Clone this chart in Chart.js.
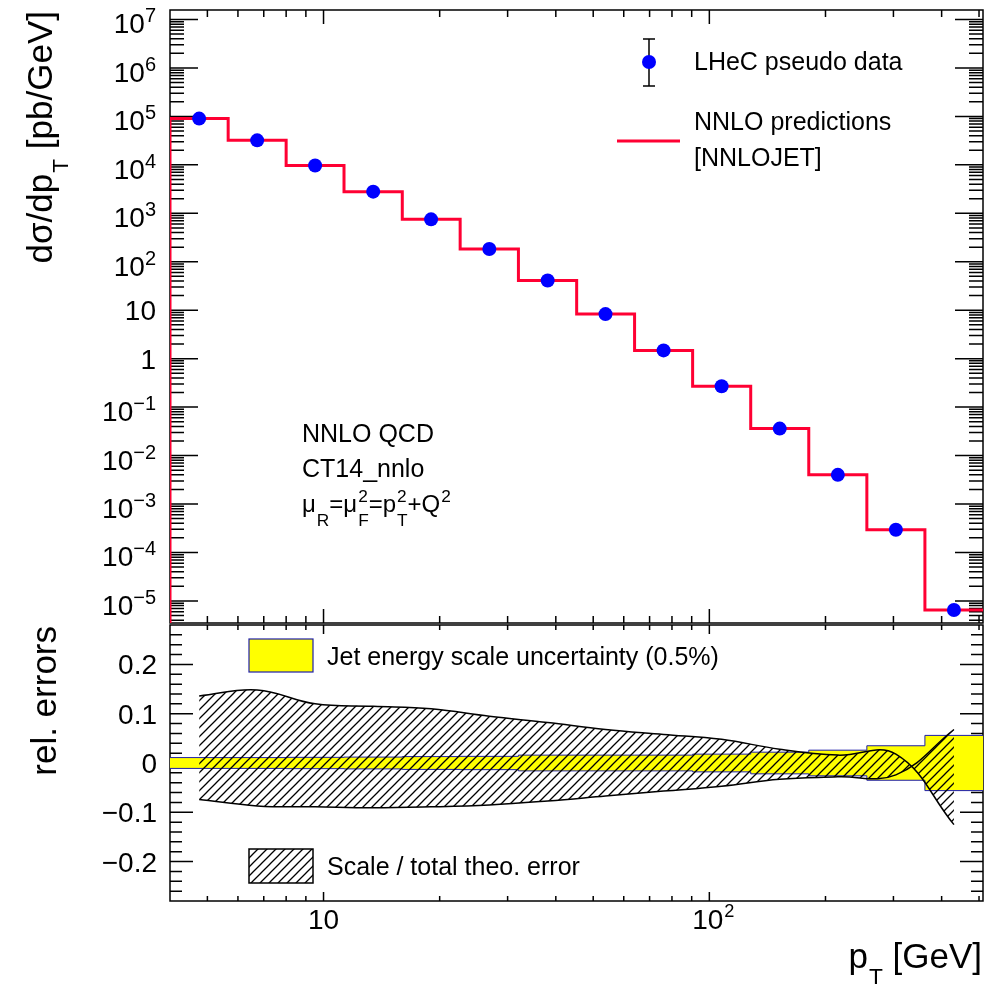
<!DOCTYPE html>
<html><head><meta charset="utf-8">
<script src="https://cdn.jsdelivr.net/npm/chart.js@4.4.1/dist/chart.umd.min.js"></script>
<style>
html,body{margin:0;padding:0;background:#fff;}
#wrap{position:relative;width:994px;height:984px;overflow:hidden;}
canvas{position:absolute;left:0;top:0;}
</style></head><body>
<div id="wrap"><canvas id="cBot" width="994" height="984"></canvas><canvas id="cTop" width="994" height="984"></canvas></div>
<script>
// ---------------- data ----------------
const binEdges   = [4, 5.66, 8, 11.3, 16, 22.6, 32, 45.3, 64, 90.5, 128, 181, 256, 362, 512];
const binCentres = [4.76, 6.73, 9.51, 13.45, 19.0, 26.9, 38.1, 53.8, 76.1, 107.6, 152.2, 215.3, 304.4, 430.5];
const pseudoData = [9.0e4, 3.2e4, 9.7e3, 2.8e3, 7.5e2, 1.83e2, 41, 8.3, 1.48, 0.27, 0.036, 4.0e-3, 2.95e-4, 6.5e-6];
const nnloPred   = [9.0e4, 3.2e4, 9.7e3, 2.8e3, 7.5e2, 1.83e2, 41, 8.3, 1.48, 0.27, 0.036, 4.0e-3, 2.95e-4, 6.5e-6];
const scaleUp    = [0.136, 0.148, 0.120, 0.115, 0.110, 0.095, 0.082, 0.068, 0.058, 0.048, 0.028, 0.016, 0.018, -0.125];
const scaleDown  = [-0.074, -0.087, -0.089, -0.091, -0.089, -0.085, -0.077, -0.067, -0.057, -0.047, -0.033, -0.028, -0.024, 0.068];
const jesErr     = [0.011, 0.011, 0.0115, 0.012, 0.013, 0.0135, 0.016, 0.016, 0.016, 0.018, 0.022, 0.026, 0.035, 0.056];

const xRange      = [4, 512];
const yTopRange   = [3.5e-6, 1.57e7];
const yBotRange   = [-0.28, 0.28];
const yTopTickExp = [7, 6, 5, 4, 3, 2, 1, 0, -1, -2, -3, -4, -5];
const yBotTicks   = [0.2, 0.1, 0, -0.1, -0.2];
const yBotLabels  = ['0.2', '0.1', '0', '\u22120.1', '\u22120.2'];
const xTickVals   = [10, 100];
const xTickLabels = [[{n:'10'}], [{n:'10'}, {sup:'2'}]];

// ---------------- helpers ----------------
const FONT = '"Liberation Sans", Arial, Helvetica, sans-serif';
const fnt = s => s + 'px ' + FONT;
const SMALL = 0.65, SUBOFF = 0.5, SUPOFF = 0.43;
function richWidth(ctx, parts, size, small) {
  let w = 0;
  for (const p of parts) {
    if (p.n !== undefined) { ctx.font = fnt(size); w += ctx.measureText(p.n).width; }
    else {
      ctx.font = fnt(size * small);
      w += Math.max(p.sub ? ctx.measureText(p.sub).width : 0, p.sup ? ctx.measureText(p.sup).width : 0) + 1;
    }
  }
  return w;
}
function drawRich(ctx, x, y, parts, size, align, subOff, small) {
  subOff = subOff === undefined ? SUBOFF : subOff;
  small = small === undefined ? SMALL : small;
  const w = richWidth(ctx, parts, size, small);
  let cx = align === 'right' ? x - w : align === 'center' ? x - w / 2 : x;
  ctx.textAlign = 'left'; ctx.textBaseline = 'alphabetic'; ctx.fillStyle = '#000';
  for (const p of parts) {
    if (p.n !== undefined) { ctx.font = fnt(size); ctx.fillText(p.n, cx, y); cx += ctx.measureText(p.n).width; }
    else {
      ctx.font = fnt(size * small); let ww = 0;
      if (p.sub) { ctx.fillText(p.sub, cx + 1, y + size * subOff); ww = Math.max(ww, ctx.measureText(p.sub).width); }
      if (p.sup) { ctx.fillText(p.sup, cx + 1, y - size * SUPOFF); ww = Math.max(ww, ctx.measureText(p.sup).width); }
      cx += ww + 1;
    }
  }
}
function logTicks(min, max) {
  const out = [];
  for (let k = Math.floor(Math.log10(min)); k <= Math.ceil(Math.log10(max)); k++) {
    for (let m = 1; m <= 9; m++) {
      const v = m * Math.pow(10, k);
      if (v > min * 1.0001 && v < max * 0.9999) out.push({v, major: m === 1});
    }
  }
  return out;
}

// hatch pattern
const pc = document.createElement('canvas'); pc.width = 9; pc.height = 9;
const pg = pc.getContext('2d');
pg.strokeStyle = '#000'; pg.lineWidth = 1.3; pg.beginPath();
pg.moveTo(0, 9); pg.lineTo(9, 0); pg.moveTo(-2, 2); pg.lineTo(2, -2); pg.moveTo(7, 11); pg.lineTo(11, 7); pg.stroke();
const hatch = pg.createPattern(pc, 'repeat');

const RED = 'rgb(255,0,51)';
const BLUE = '#0000ff';
const NAVY = 'rgb(30,30,170)';
const YELLOW = '#ffff00';

// ---------------- top panel ----------------
const topFrame = {
  id: 'topFrame',
  beforeDatasetsDraw(chart) {
    const ctx = chart.ctx, a = chart.chartArea, xs = chart.scales.x, ys = chart.scales.y;
    ctx.save();
    ctx.strokeStyle = '#000'; ctx.lineWidth = 1.5;
    ctx.strokeRect(a.left, a.top, a.right - a.left, a.bottom - a.top);
    ctx.beginPath();
    for (const t of logTicks(yTopRange[0], yTopRange[1])) {
      const y = ys.getPixelForValue(t.v), L = t.major ? 28 : 14;
      ctx.moveTo(a.left, y); ctx.lineTo(a.left + L, y);
      ctx.moveTo(a.right, y); ctx.lineTo(a.right - L, y);
    }
    for (const t of logTicks(xRange[0], xRange[1])) {
      const x = xs.getPixelForValue(t.v), L = t.major ? 14 : 7;
      ctx.moveTo(x, a.bottom); ctx.lineTo(x, a.bottom - L);
      ctx.moveTo(x, a.top); ctx.lineTo(x, a.top + L);
    }
    ctx.stroke();
    ctx.restore();
  },
  afterDraw(chart) {
    const ctx = chart.ctx, ys = chart.scales.y;
    ctx.save();
    for (const e of yTopTickExp) {
      const y = ys.getPixelForValue(Math.pow(10, e));
      if (e === 1) drawRich(ctx, 156, y + 10, [{n:'10'}], 28, 'right');
      else if (e === 0) drawRich(ctx, 156, y + 10, [{n:'1'}], 28, 'right');
      else {
        const ex = e < 0 ? '\u2212' + (-e) : String(e);
        ctx.font = fnt(20); const we = ctx.measureText(ex).width;
        drawRich(ctx, 156 - we, y + 14, [{n:'10'}], 28, 'right');
        ctx.font = fnt(20); ctx.textAlign = 'left'; ctx.fillText(ex, 156 - we, y + 3);
      }
    }
    ctx.save(); ctx.translate(52, 11); ctx.rotate(-Math.PI / 2);
    drawRich(ctx, 0, 0, [{n:'d\u03c3/dp'}, {sub:'T'}, {n:' [pb/GeV]'}], 35, 'right', 0.45);
    ctx.restore();
    // legend
    ctx.strokeStyle = '#000'; ctx.lineWidth = 1.5; ctx.beginPath();
    ctx.moveTo(649, 39); ctx.lineTo(649, 86);
    ctx.moveTo(643, 39); ctx.lineTo(655, 39);
    ctx.moveTo(643, 86); ctx.lineTo(655, 86); ctx.stroke();
    ctx.fillStyle = BLUE; ctx.beginPath(); ctx.arc(649, 62, 7, 0, 2 * Math.PI); ctx.fill();
    drawRich(ctx, 694, 70, [{n:'LHeC pseudo data'}], 25, 'left');
    ctx.strokeStyle = RED; ctx.lineWidth = 3; ctx.beginPath(); ctx.moveTo(617, 141); ctx.lineTo(680, 141); ctx.stroke();
    drawRich(ctx, 694, 130, [{n:'NNLO predictions'}], 25, 'left');
    drawRich(ctx, 694, 166, [{n:'[NNLOJET]'}], 25, 'left');
    // annotation
    drawRich(ctx, 302, 442, [{n:'NNLO QCD'}], 25, 'left');
    drawRich(ctx, 302, 477, [{n:'CT14_nnlo'}], 25, 'left');
    drawRich(ctx, 302, 512, [{n:'\u03bc'}, {sub:'R'}, {n:'=\u03bc'}, {sub:'F', sup:'2'}, {n:'=p'}, {sub:'T', sup:'2'}, {n:'+Q'}, {sup:'2'}], 24, 'left', 0.57, 0.72);
    ctx.restore();
  }
};

const histPoints = [{x: binEdges[0], y: yTopRange[0]}]
  .concat(nnloPred.map((v, i) => ({x: binEdges[i], y: v})))
  .concat([{x: binEdges[binEdges.length - 1], y: nnloPred[nnloPred.length - 1]}]);

new Chart(document.getElementById('cTop'), {
  type: 'line',
  data: {
    datasets: [
      { label: 'LHeC pseudo data', data: binCentres.map((x, i) => ({x, y: pseudoData[i]})),
        showLine: false, pointRadius: 7, pointBackgroundColor: BLUE, pointBorderWidth: 0, order: 0 },
      { label: 'NNLO predictions [NNLOJET]', data: histPoints, stepped: 'before',
        borderColor: RED, borderWidth: 3, pointRadius: 0, fill: false, order: 1 }
    ]
  },
  options: {
    responsive: false, animation: false, events: [],
    layout: { padding: { left: 170, top: 10, right: 11, bottom: 361 } },
    plugins: { legend: { display: false }, tooltip: { enabled: false } },
    scales: {
      x: { type: 'logarithmic', min: xRange[0], max: xRange[1], display: false },
      y: { type: 'logarithmic', min: yTopRange[0], max: yTopRange[1], display: false }
    }
  },
  plugins: [topFrame]
});

// ---------------- bottom panel ----------------
const botFrame = {
  id: 'botFrame',
  beforeDatasetsDraw(chart) {
    const ctx = chart.ctx, a = chart.chartArea, xs = chart.scales.x, ys = chart.scales.y;
    ctx.save();
    ctx.strokeStyle = '#000'; ctx.lineWidth = 1.5;
    ctx.strokeRect(a.left, a.top, a.right - a.left, a.bottom - a.top);
    ctx.beginPath();
    for (let i = -13; i <= 13; i++) {
      const v = i * 0.02, y = ys.getPixelForValue(v), L = (i % 5 === 0) ? 23 : 12;
      ctx.moveTo(a.left, y); ctx.lineTo(a.left + L, y);
      ctx.moveTo(a.right, y); ctx.lineTo(a.right - L, y);
    }
    for (const t of logTicks(xRange[0], xRange[1])) {
      const x = xs.getPixelForValue(t.v), L = t.major ? 9 : 5;
      ctx.moveTo(x, a.bottom); ctx.lineTo(x, a.bottom - L);
      ctx.moveTo(x, a.top); ctx.lineTo(x, a.top + L);
    }
    ctx.stroke();
    ctx.restore();
  },
  afterDraw(chart) {
    const ctx = chart.ctx, xs = chart.scales.x, ys = chart.scales.y;
    ctx.save();
    yBotTicks.forEach((v, i) => drawRich(ctx, 157, ys.getPixelForValue(v) + 10, [{n: yBotLabels[i]}], 28, 'right'));
    xTickVals.forEach((v, i) => drawRich(ctx, xs.getPixelForValue(v) + (i === 1 ? 4 : 0), 929, xTickLabels[i], 28, 'center'));
    ctx.save(); ctx.translate(56, 626); ctx.rotate(-Math.PI / 2);
    drawRich(ctx, 0, 0, [{n:'rel. errors'}], 35, 'right');
    ctx.restore();
    drawRich(ctx, 982, 968, [{n:'p'}, {sub:'T'}, {n:' [GeV]'}], 35, 'right', 0.45);
    // legends
    ctx.fillStyle = YELLOW; ctx.fillRect(249, 639, 64, 33);
    ctx.strokeStyle = NAVY; ctx.lineWidth = 1.2; ctx.strokeRect(249, 639, 64, 33);
    drawRich(ctx, 327, 665, [{n:'Jet energy scale uncertainty (0.5%)'}], 25, 'left');
    ctx.fillStyle = hatch; ctx.fillRect(249, 849, 64, 34);
    ctx.strokeStyle = '#000'; ctx.lineWidth = 1.5; ctx.strokeRect(249, 849, 64, 34);
    drawRich(ctx, 327, 875, [{n:'Scale / total theo. error'}], 25, 'left');
    ctx.restore();
  }
};

const jesUpPts = jesErr.map((v, i) => ({x: binEdges[i], y: v})).concat([{x: binEdges[binEdges.length - 1], y: jesErr[jesErr.length - 1]}]);
const jesDnPts = jesErr.map((v, i) => ({x: binEdges[i], y: -v})).concat([{x: binEdges[binEdges.length - 1], y: -jesErr[jesErr.length - 1]}]);

new Chart(document.getElementById('cBot'), {
  type: 'line',
  data: {
    datasets: [
      { label: 'scale up', data: binCentres.map((x, i) => ({x, y: scaleUp[i]})), tension: 0.4,
        borderColor: '#000', borderWidth: 1.5, pointRadius: 0, fill: false, order: 1 },
      { label: 'Scale / total theo. error', data: binCentres.map((x, i) => ({x, y: scaleDown[i]})), tension: 0.4,
        borderColor: '#000', borderWidth: 1.5, pointRadius: 0, fill: '-1', backgroundColor: hatch, order: 2 },
      { label: 'jes up', data: jesUpPts, stepped: 'before', borderColor: NAVY, borderWidth: 1,
        pointRadius: 0, fill: false, order: 3 },
      { label: 'Jet energy scale uncertainty (0.5%)', data: jesDnPts, stepped: 'before', borderColor: NAVY, borderWidth: 1,
        pointRadius: 0, fill: '-1', backgroundColor: YELLOW, order: 4 }
    ]
  },
  options: {
    responsive: false, animation: false, events: [],
    layout: { padding: { left: 170, top: 625, right: 11, bottom: 83 } },
    plugins: { legend: { display: false }, tooltip: { enabled: false } },
    scales: {
      x: { type: 'logarithmic', min: xRange[0], max: xRange[1], display: false },
      y: { type: 'linear', min: yBotRange[0], max: yBotRange[1], display: false }
    }
  },
  plugins: [botFrame]
});
</script>
</body></html>
